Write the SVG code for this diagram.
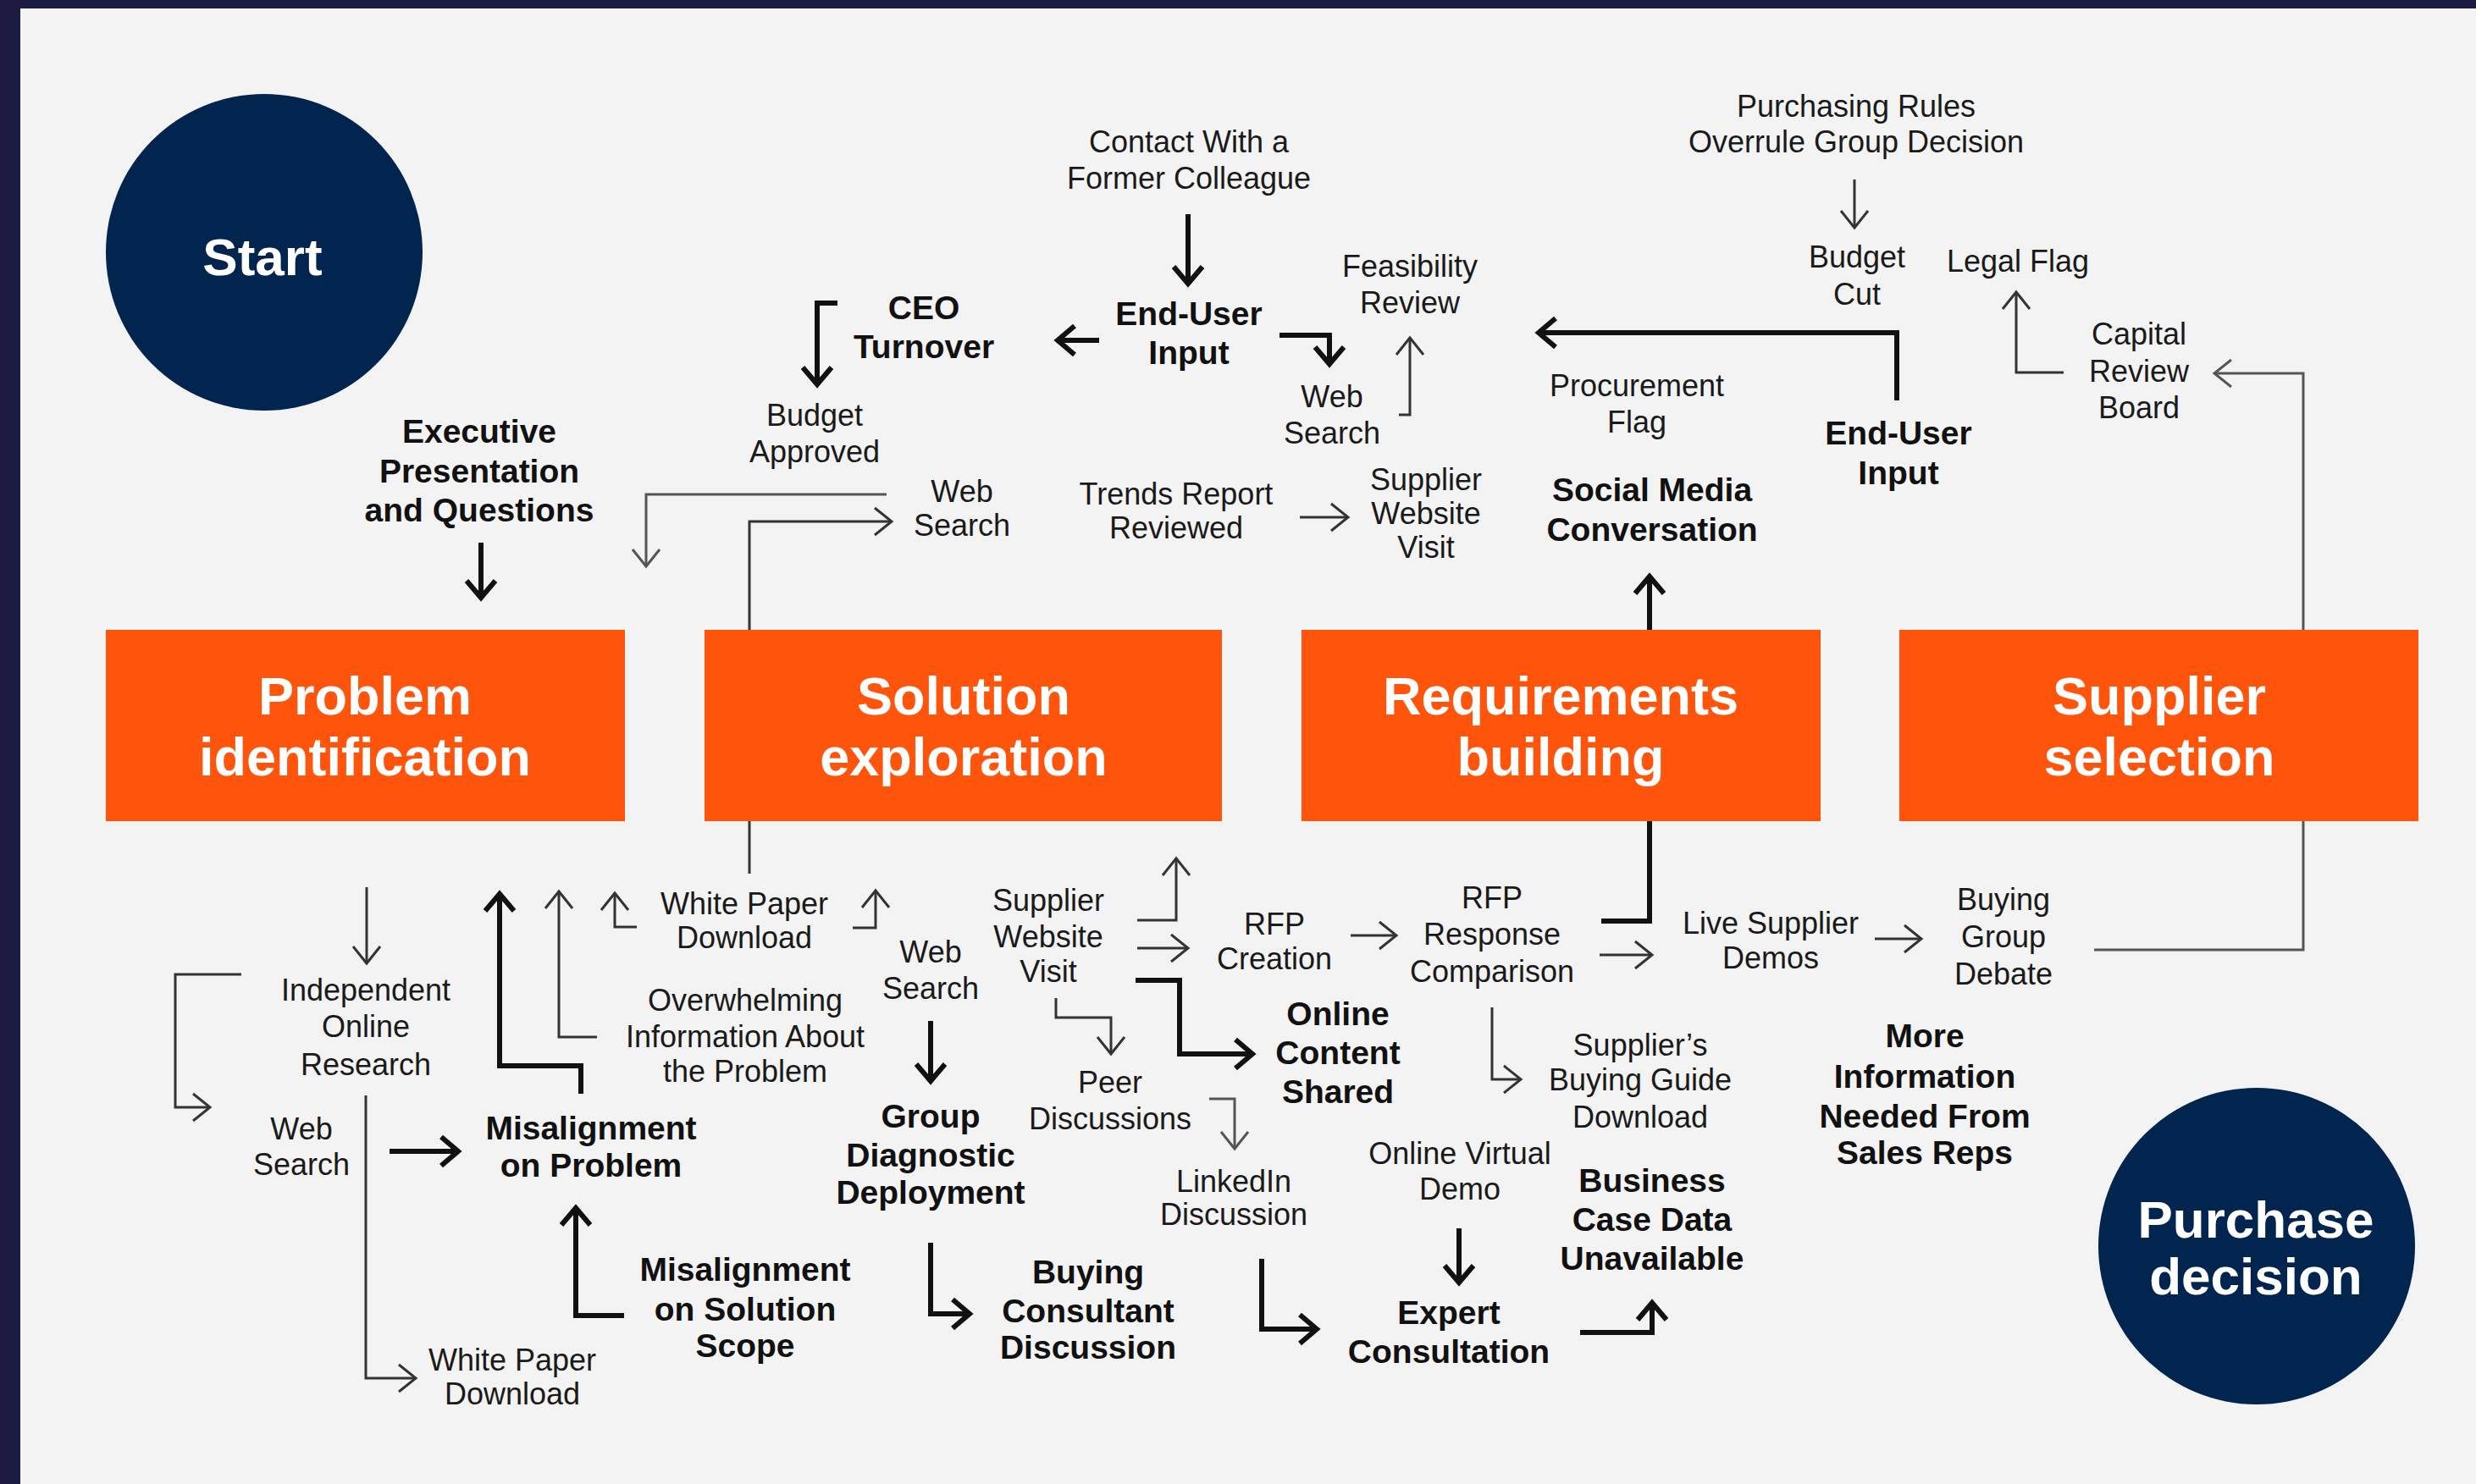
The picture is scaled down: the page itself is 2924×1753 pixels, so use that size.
<svg xmlns="http://www.w3.org/2000/svg" width="2924" height="1753" viewBox="0 0 2924 1753">
<defs>
<style>
.r{font-family:"Liberation Sans",Arial,sans-serif;font-size:36px;fill:#1a1a1a;text-anchor:middle}
.b{font-family:"Liberation Sans",Arial,sans-serif;font-size:39px;font-weight:bold;fill:#111;text-anchor:middle}
.t{font-family:"Liberation Sans",Arial,sans-serif;font-size:63px;font-weight:bold;fill:#fff;text-anchor:middle}
.box{fill:#FE540C}
.circ{fill:#02254F}
.k{fill:none;stroke:#111;stroke-width:6;stroke-linejoin:miter}
.n{fill:none;stroke:#333;stroke-width:3}
.g{fill:none;stroke:#555;stroke-width:3}
.k.a{marker-end:url(#ak)}
.n.a{marker-end:url(#an)}
.g.a{marker-end:url(#ag)}
</style>
<marker id="ak" markerUnits="userSpaceOnUse" viewBox="-30 -24 40 48" refX="0" refY="0" markerWidth="40" markerHeight="48" orient="auto" overflow="visible">
<path d="M-18,-17 L2,0 L-18,17" fill="none" stroke="#111" stroke-width="6"/>
</marker>
<marker id="an" markerUnits="userSpaceOnUse" viewBox="-30 -24 40 48" refX="0" refY="0" markerWidth="40" markerHeight="48" orient="auto" overflow="visible">
<path d="M-19,-16 L1,0 L-19,16" fill="none" stroke="#333" stroke-width="3"/>
</marker>
<marker id="ag" markerUnits="userSpaceOnUse" viewBox="-30 -24 40 48" refX="0" refY="0" markerWidth="40" markerHeight="48" orient="auto" overflow="visible">
<path d="M-19,-16 L1,0 L-19,16" fill="none" stroke="#555" stroke-width="3"/>
</marker>
</defs>
<rect x="0" y="0" width="2924" height="1753" fill="#1D1A42"/>
<rect x="24" y="10" width="2900" height="1743" fill="#F3F3F3"/>

<g id="connectors">
<path class="k a" d="M568,641 V704"/>
<path class="k a" d="M989,358 H965 V452"/>
<path class="k a" d="M1403,253 V333"/>
<path class="k a" d="M1298,402 H1251"/>
<path class="k a" d="M1511,396 H1570 V428"/>
<path class="k a" d="M2240,473 V393 H1819"/>
<path class="k a" d="M1948,744 V683"/>
<path class="k a" d="M686,1292 V1259 H590 V1058"/>
<path class="k a" d="M460,1360 H539"/>
<path class="k a" d="M737,1554 H680 V1429"/>
<path class="k a" d="M1099,1206 V1275"/>
<path class="k a" d="M1099,1468 V1552 H1143"/>
<path class="k a" d="M1341,1158 H1393 V1245 H1477"/>
<path class="k a" d="M1490,1487 V1570 H1553"/>
<path class="k a" d="M1723,1451 V1513"/>
<path class="k a" d="M1866,1574 H1951 V1541"/>
<path class="k" d="M1948,970 V1088 H1891"/>
<path class="g a" d="M1047,584 H763 V668"/>
<path class="n a" d="M885,744 V616 H1052"/>
<path class="n a" d="M1652,490 H1665 V400"/>
<path class="n a" d="M1535,611 H1591"/>
<path class="n a" d="M2190,212 V268"/>
<path class="n a" d="M2437,440 H2381 V346"/>
<path class="g a" d="M2720,744 V441 H2616"/>
<path class="n a" d="M433,1048 V1137"/>
<path class="n a" d="M285,1151 H207 V1308 H247"/>
<path class="n a" d="M432,1294 V1628 H490"/>
<path class="n a" d="M705,1225 H660 V1054"/>
<path class="n a" d="M752,1095 H726 V1056"/>
<path class="n a" d="M1007,1096 H1034 V1053"/>
<path class="n" d="M885,970 V1032"/>
<path class="n a" d="M1343,1087 H1389 V1015"/>
<path class="n a" d="M1343,1120 H1402"/>
<path class="n a" d="M1247,1179 V1202 H1312 V1244"/>
<path class="g a" d="M1428,1298 H1458 V1356"/>
<path class="n a" d="M1595,1105 H1648"/>
<path class="n a" d="M1762,1190 V1275 H1795"/>
<path class="n a" d="M1889,1128 H1950"/>
<path class="n a" d="M2214,1109 H2268"/>
<path class="g" d="M2473,1122 H2720 V970"/>
</g>

<g id="start"><circle class="circ" cx="312" cy="298" r="187"/><text class="t" x="310" y="325" style="font-size:62px">Start</text></g>
<g id="purchase-decision"><circle class="circ" cx="2665" cy="1472" r="187"/><text class="t" x="2664" y="1462" style="font-size:62px">Purchase</text><text class="t" x="2664" y="1529" style="font-size:62px">decision</text></g>

<g id="problem-identification"><rect class="box" x="125" y="744" width="613" height="226"/><text class="t" x="431" y="844">Problem</text><text class="t" x="431" y="916">identification</text></g>
<g id="solution-exploration"><rect class="box" x="832" y="744" width="611" height="226"/><text class="t" x="1138" y="844">Solution</text><text class="t" x="1138" y="916">exploration</text></g>
<g id="requirements-building"><rect class="box" x="1537" y="744" width="613" height="226"/><text class="t" x="1843" y="844">Requirements</text><text class="t" x="1843" y="916">building</text></g>
<g id="supplier-selection"><rect class="box" x="2243" y="744" width="613" height="226"/><text class="t" x="2550" y="844">Supplier</text><text class="t" x="2550" y="916">selection</text></g>

<g id="contact-colleague"><text class="r" x="1404" y="180">Contact With a</text><text class="r" x="1404" y="223">Former Colleague</text></g>
<g id="feasibility-review"><text class="r" x="1665" y="327">Feasibility</text><text class="r" x="1665" y="370">Review</text></g>
<g id="budget-approved"><text class="r" x="962" y="503">Budget</text><text class="r" x="962" y="546">Approved</text></g>
<g id="web-search-1"><text class="r" x="1573" y="481">Web</text><text class="r" x="1573" y="524">Search</text></g>
<g id="web-search-2"><text class="r" x="1136" y="593">Web</text><text class="r" x="1136" y="633">Search</text></g>
<g id="trends-report"><text class="r" x="1389" y="596">Trends Report</text><text class="r" x="1389" y="636">Reviewed</text></g>
<g id="supplier-website-1"><text class="r" x="1684" y="579">Supplier</text><text class="r" x="1684" y="619">Website</text><text class="r" x="1684" y="659">Visit</text></g>
<g id="purchasing-rules"><text class="r" x="2192" y="138">Purchasing Rules</text><text class="r" x="2192" y="180">Overrule Group Decision</text></g>
<g id="budget-cut"><text class="r" x="2193" y="316">Budget</text><text class="r" x="2193" y="360">Cut</text></g>
<g id="legal-flag"><text class="r" x="2383" y="321">Legal Flag</text></g>
<g id="capital-review"><text class="r" x="2526" y="407">Capital</text><text class="r" x="2526" y="451">Review</text><text class="r" x="2526" y="494">Board</text></g>
<g id="procurement-flag"><text class="r" x="1933" y="468">Procurement</text><text class="r" x="1933" y="511">Flag</text></g>
<g id="independent-research"><text class="r" x="432" y="1182">Independent</text><text class="r" x="432" y="1225">Online</text><text class="r" x="432" y="1270">Research</text></g>
<g id="web-search-3"><text class="r" x="356" y="1346">Web</text><text class="r" x="356" y="1388">Search</text></g>
<g id="white-paper-1"><text class="r" x="605" y="1619">White Paper</text><text class="r" x="605" y="1659">Download</text></g>
<g id="white-paper-2"><text class="r" x="879" y="1080">White Paper</text><text class="r" x="879" y="1120">Download</text></g>
<g id="overwhelming-info"><text class="r" x="880" y="1194">Overwhelming</text><text class="r" x="880" y="1237">Information About</text><text class="r" x="880" y="1278">the Problem</text></g>
<g id="web-search-4"><text class="r" x="1099" y="1137">Web</text><text class="r" x="1099" y="1180">Search</text></g>
<g id="supplier-website-2"><text class="r" x="1238" y="1076">Supplier</text><text class="r" x="1238" y="1119">Website</text><text class="r" x="1238" y="1160">Visit</text></g>
<g id="rfp-creation"><text class="r" x="1505" y="1104">RFP</text><text class="r" x="1505" y="1145">Creation</text></g>
<g id="rfp-response"><text class="r" x="1762" y="1073">RFP</text><text class="r" x="1762" y="1116">Response</text><text class="r" x="1762" y="1160">Comparison</text></g>
<g id="peer-discussions"><text class="r" x="1311" y="1291">Peer</text><text class="r" x="1311" y="1334">Discussions</text></g>
<g id="linkedin-discussion"><text class="r" x="1457" y="1408">LinkedIn</text><text class="r" x="1457" y="1447">Discussion</text></g>
<g id="online-virtual-demo"><text class="r" x="1724" y="1375">Online Virtual</text><text class="r" x="1724" y="1417">Demo</text></g>
<g id="live-supplier-demos"><text class="r" x="2091" y="1103">Live Supplier</text><text class="r" x="2091" y="1144">Demos</text></g>
<g id="buying-group-debate"><text class="r" x="2366" y="1075">Buying</text><text class="r" x="2366" y="1119">Group</text><text class="r" x="2366" y="1163">Debate</text></g>
<g id="buying-guide"><text class="r" x="1937" y="1247">Supplier’s</text><text class="r" x="1937" y="1288">Buying Guide</text><text class="r" x="1937" y="1332">Download</text></g>

<g id="executive-presentation"><text class="b" x="566" y="523">Executive</text><text class="b" x="566" y="570">Presentation</text><text class="b" x="566" y="616">and Questions</text></g>
<g id="ceo-turnover"><text class="b" x="1091" y="377">CEO</text><text class="b" x="1091" y="423">Turnover</text></g>
<g id="end-user-input-1"><text class="b" x="1404" y="384">End-User</text><text class="b" x="1404" y="430">Input</text></g>
<g id="end-user-input-2"><text class="b" x="2242" y="525">End-User</text><text class="b" x="2242" y="572">Input</text></g>
<g id="social-media"><text class="b" x="1951" y="592">Social Media</text><text class="b" x="1951" y="639">Conversation</text></g>
<g id="misalignment-problem"><text class="b" x="698" y="1346">Misalignment</text><text class="b" x="698" y="1390">on Problem</text></g>
<g id="misalignment-scope"><text class="b" x="880" y="1513">Misalignment</text><text class="b" x="880" y="1560">on Solution</text><text class="b" x="880" y="1603">Scope</text></g>
<g id="group-diagnostic"><text class="b" x="1099" y="1332">Group</text><text class="b" x="1099" y="1378">Diagnostic</text><text class="b" x="1099" y="1422">Deployment</text></g>
<g id="buying-consultant"><text class="b" x="1285" y="1516">Buying</text><text class="b" x="1285" y="1562">Consultant</text><text class="b" x="1285" y="1605">Discussion</text></g>
<g id="online-content"><text class="b" x="1580" y="1211">Online</text><text class="b" x="1580" y="1257">Content</text><text class="b" x="1580" y="1303">Shared</text></g>
<g id="expert-consultation"><text class="b" x="1711" y="1564">Expert</text><text class="b" x="1711" y="1610">Consultation</text></g>
<g id="more-information"><text class="b" x="2273" y="1237">More</text><text class="b" x="2273" y="1285">Information</text><text class="b" x="2273" y="1332">Needed From</text><text class="b" x="2273" y="1375">Sales Reps</text></g>
<g id="business-case"><text class="b" x="1951" y="1408">Business</text><text class="b" x="1951" y="1454">Case Data</text><text class="b" x="1951" y="1500">Unavailable</text></g>
</svg>
